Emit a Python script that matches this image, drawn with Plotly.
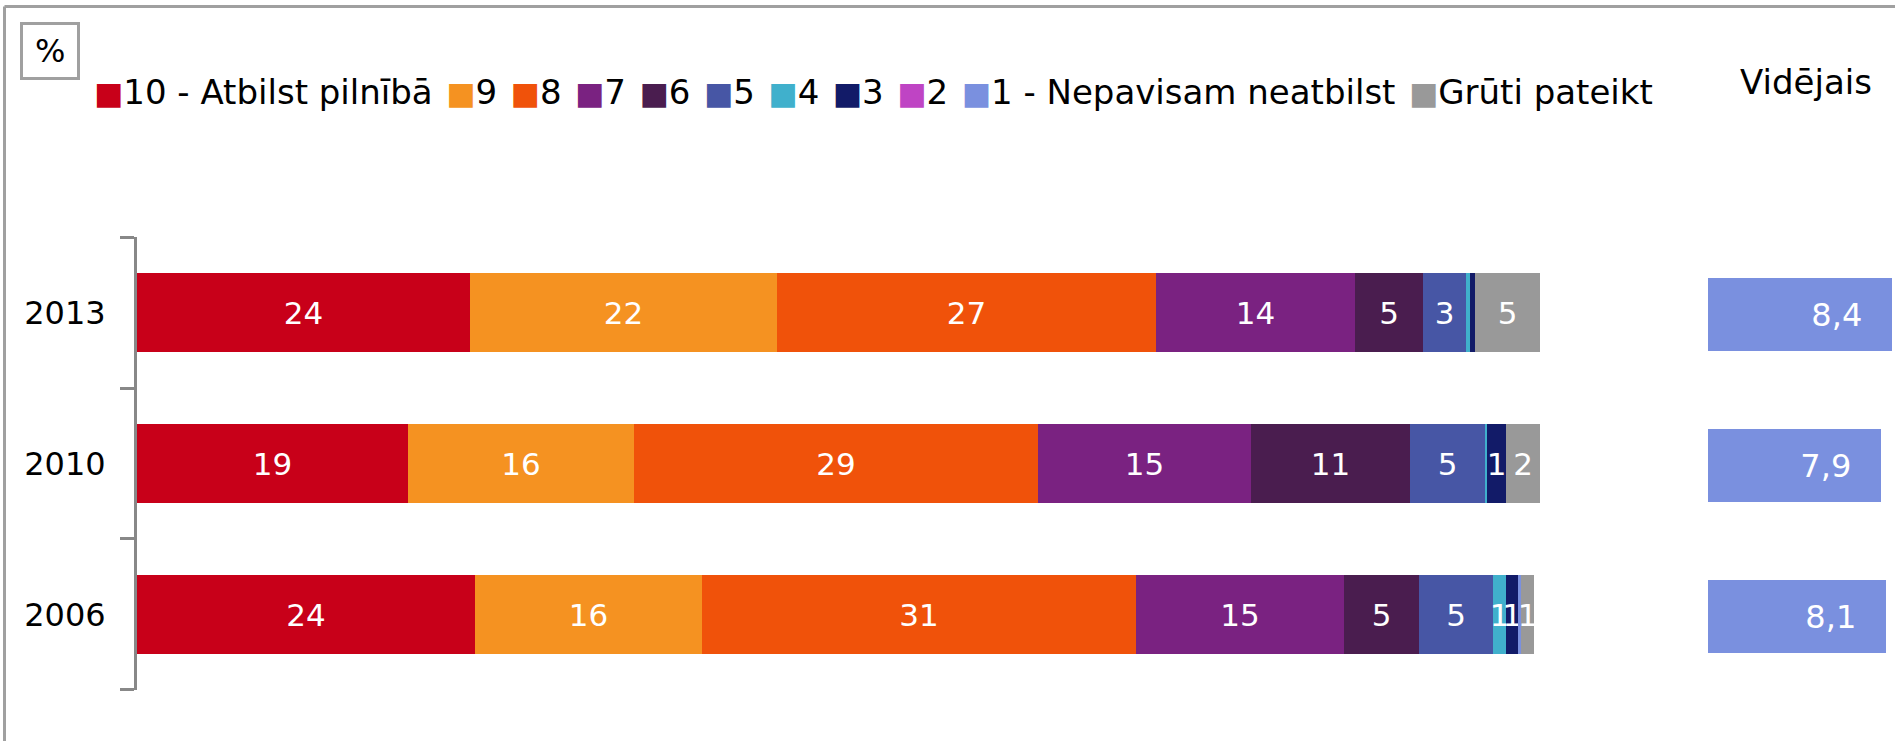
import plotly.graph_objects as go

# ========== DATA ==========

years = ["2006", "2010", "2013"]

categories = ["10 - Atbilst pilnībā", "9", "8", "7", "6", "5", "4", "3", "2",
              "1 - Nepavisam neatbilst", "Grūti pateikt"]

colors = ["#C80019", "#F59221", "#F0520A", "#7A2281", "#4A1D4F", "#4756A5",
          "#40B0CC", "#121B68", "#BF44C4", "#7A90DF", "#999999"]

# % of answers, same order as categories
share_2006 = [24.1, 16.2, 30.9, 14.8, 5.35, 5.3, 0.93, 0.86, 0, 0.2, 0.93]
share_2010 = [19.3, 16.1, 28.8, 15.2, 11.3, 5.35, 0.2, 1.35, 0, 0, 2.4]
share_2013 = [23.7, 21.9, 27.0, 14.2, 4.85, 3.05, 0.3, 0.4, 0, 0, 4.6]

# Vidējais (mean score), same order as years
mean_score = [8.1, 7.9, 8.4]

# ========== LAYOUT HELPERS ==========

W, H = 1895, 741
FONT = "DejaVu Sans"


def px(x):
    return x / W


def py(y):
    return 1 - y / H


def bar_label(v):
    return f"{v:.0f}" if v >= 0.5 else ""


# ========== FIGURE ==========

fig = go.Figure()

by_year = [share_2006, share_2010, share_2013]
for i, (name, color) in enumerate(zip(categories, colors)):
    vals = [row[i] for row in by_year]
    fig.add_trace(go.Bar(
        x=vals,
        y=years,
        orientation="h",
        name=name,
        marker=dict(color=color, line=dict(width=0)),
        width=0.52,
        text=[bar_label(v) for v in vals],
        textposition="inside",
        insidetextanchor="middle",
        textangle=0,
        constraintext="none",
        textfont=dict(family=FONT, size=31, color="white"),
        showlegend=False,
        xaxis="x",
        yaxis="y",
    ))

# Vidējais bars, label sits a bit in from the bar end
fig.add_trace(go.Bar(
    x=mean_score,
    y=years,
    orientation="h",
    name="Vidējais",
    marker=dict(color="#7A90DF", line=dict(width=0)),
    width=0.48,
    text=[f"{v:.1f}".replace(".", ",") + "\u2007\u2009" for v in mean_score],
    textposition="inside",
    insidetextanchor="end",
    textangle=0,
    constraintext="none",
    textfont=dict(family=FONT, size=32, color="white"),
    showlegend=False,
    xaxis="x2",
    yaxis="y2",
))

# Legend row built as text
gap = '<span style="font-size:27px">\u2002</span>'
legend_text = gap.join(
    f'<span style="color:{c};font-size:31px">■</span>{n}'
    for n, c in zip(categories, colors)
)
fig.add_annotation(
    x=px(92), y=py(92), xref="paper", yref="paper",
    text=legend_text, xanchor="left", yanchor="middle",
    showarrow=False, font=dict(family=FONT, size=34, color="black"),
)

fig.add_annotation(
    x=px(1806), y=py(82), xref="paper", yref="paper",
    text="Vidējais", xanchor="center", yanchor="middle",
    showarrow=False, font=dict(family=FONT, size=34, color="black"),
)

# "%" box
fig.add_shape(type="rect", xref="paper", yref="paper",
              x0=px(21.5), x1=px(78.5), y0=py(78.5), y1=py(23.5),
              line=dict(color="#A0A0A0", width=3))
fig.add_annotation(
    x=px(50), y=py(51), xref="paper", yref="paper",
    text="%", xanchor="center", yanchor="middle",
    showarrow=False, font=dict(family=FONT, size=32, color="black"),
)

# outer frame (cut off at right and bottom)
fig.add_shape(type="line", xref="paper", yref="paper",
              x0=px(4.5), x1=1.05, y0=py(6.5), y1=py(6.5),
              line=dict(color="#A0A0A0", width=3))
fig.add_shape(type="line", xref="paper", yref="paper",
              x0=px(4.5), x1=px(4.5), y0=py(6.5), y1=-0.05,
              line=dict(color="#A0A0A0", width=3))

fig.update_layout(
    template="none",
    width=W,
    height=H,
    margin=dict(l=0, r=0, t=0, b=0),
    barmode="stack",
    bargap=0,
    paper_bgcolor="white",
    plot_bgcolor="white",
    font=dict(family=FONT, color="black"),
    xaxis=dict(
        domain=[px(137), px(1540)],
        range=[0, 100],
        visible=False,
        fixedrange=True,
    ),
    yaxis=dict(
        domain=[py(690), py(237)],
        type="category",
        categoryorder="array",
        categoryarray=years,
        range=[-0.501, 2.501],
        tickson="boundaries",
        ticks="outside",
        ticklen=14,
        tickwidth=3,
        tickcolor="#888888",
        ticklabelstandoff=22,
        showline=True,
        linewidth=3,
        linecolor="#888888",
        showgrid=False,
        zeroline=False,
        automargin=False,
        tickfont=dict(family=FONT, size=32, color="black"),
        anchor="x",
    ),
    xaxis2=dict(
        domain=[px(1708), 1],
        range=[0, 8.52],
        visible=False,
        anchor="y2",
        fixedrange=True,
    ),
    yaxis2=dict(
        domain=[py(692), py(239)],
        type="category",
        categoryorder="array",
        categoryarray=years,
        range=[-0.5, 2.5],
        visible=False,
        anchor="x2",
    ),
)

# page body has a default 8px margin; drop it so the figure sits at 0,0
fig.write_html(
    "out.html",
    config={"displayModeBar": False},
    post_script="document.body.style.margin = '0';",
)
